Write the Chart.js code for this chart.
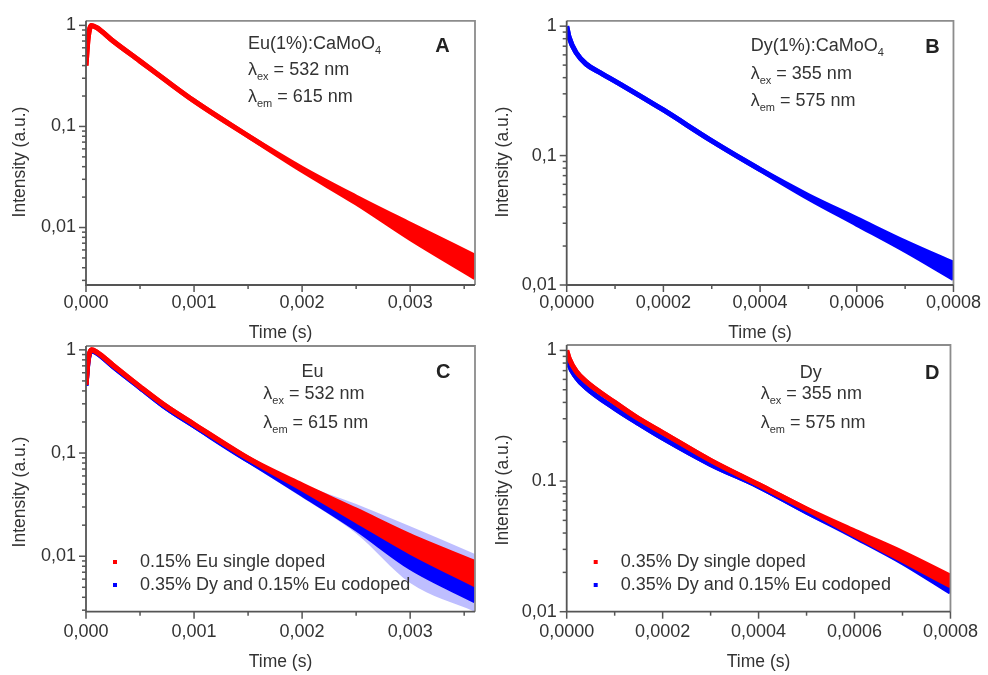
<!DOCTYPE html>
<html>
<head>
<meta charset="utf-8">
<script src="https://cdn.jsdelivr.net/npm/chart.js@4.4.1/dist/chart.umd.min.js"></script>
<style>
  html, body { margin: 0; padding: 0; background: #fff; }
  #wrap { position: relative; width: 988px; height: 675px; }
  canvas { position: absolute; left: 0; top: 0; }
</style>
</head>
<body>
<div id="wrap">
  <canvas id="pA" width="988" height="675"></canvas>
  <canvas id="pB" width="988" height="675"></canvas>
  <canvas id="pC" width="988" height="675"></canvas>
  <canvas id="pD" width="988" height="675"></canvas>
</div>
<script>
//------ data ----------------------------//
// Eu panels (A, C): time in s
const tEu = [0, 0.00002, 0.00005, 0.0001, 0.00025, 0.0005, 0.00075, 0.001, 0.0015, 0.002, 0.0025, 0.003, 0.0036];
// A : Eu(1%):CaMoO4, upper / lower edge of the red band
const euA_hi = [0.40, 0.75, 1.0, 0.95, 0.70, 0.443, 0.28, 0.179, 0.0807, 0.0385, 0.0200, 0.0108, 0.0052];
const euA_lo = [0.40, 0.75, 1.0, 0.95, 0.70, 0.443, 0.28, 0.179, 0.0807, 0.0367, 0.0175, 0.0078, 0.0032];
// C : 0.15% Eu single doped (red)
const euC_single_hi = [0.46, 0.80, 1.0, 0.95, 0.71, 0.44, 0.28, 0.19, 0.089, 0.049, 0.028, 0.0158, 0.0087];
const euC_single_lo = [0.46, 0.80, 1.0, 0.95, 0.71, 0.44, 0.28, 0.19, 0.089, 0.045, 0.0222, 0.0110, 0.0053];
// C : 0.35% Dy and 0.15% Eu codoped (blue), dense core
const euC_codop_hi = [0.45, 0.78, 0.98, 0.93, 0.69, 0.43, 0.27, 0.183, 0.085, 0.046, 0.026, 0.0135, 0.0075];
const euC_codop_lo = [0.45, 0.78, 0.98, 0.93, 0.69, 0.43, 0.27, 0.183, 0.085, 0.040, 0.0185, 0.0078, 0.0037];
// C : scattered blue points at late times
const tEuScat = [0.0015, 0.002, 0.0025, 0.003, 0.0036];
const euC_scat_hi = [0.086, 0.050, 0.032, 0.0195, 0.0105];
const euC_scat_lo = [0.080, 0.037, 0.0166, 0.0055, 0.0029];

// B : Dy(1%):CaMoO4
const tDyB = [0, 0.000005, 0.00002, 0.00004, 0.00007, 0.00012, 0.0002, 0.0003, 0.0004, 0.0005, 0.0006, 0.0007, 0.0008];
const dyB_hi = [1.0, 0.82, 0.62, 0.51, 0.435, 0.34, 0.225, 0.13, 0.078, 0.049, 0.0325, 0.0215, 0.0147];
const dyB_lo = [1.0, 0.82, 0.62, 0.51, 0.435, 0.34, 0.225, 0.13, 0.078, 0.047, 0.0295, 0.0185, 0.0112];

// D : Dy panels
const tDyD = [0, 0.000005, 0.00002, 0.00004, 0.0001, 0.00015, 0.0002, 0.0003, 0.0004, 0.0005, 0.0006, 0.0007, 0.0008];
const dyD_single_hi = [1.0, 0.87, 0.69, 0.58, 0.40, 0.30, 0.235, 0.144, 0.094, 0.061, 0.0414, 0.0284, 0.0187];
const dyD_single_lo = [1.0, 0.87, 0.69, 0.58, 0.40, 0.30, 0.235, 0.144, 0.094, 0.061, 0.0386, 0.0247, 0.0158];
const dyD_codop_hi = [0.95, 0.78, 0.62, 0.52, 0.36, 0.275, 0.213, 0.134, 0.091, 0.058, 0.0385, 0.0252, 0.0155];
const dyD_codop_lo = [0.95, 0.78, 0.62, 0.52, 0.36, 0.275, 0.213, 0.134, 0.091, 0.058, 0.0375, 0.0238, 0.0141];

// tick labels
const yTicks = [0.01, 0.1, 1];
const yLabelsComma = ['0,01', '0,1', '1'];
const yLabelsD = ['0,01', '0.1', '1'];

const FONT = '"Liberation Sans", Arial, sans-serif';
const TXT = '#333';
const RED = '#ff0000';
const BLUE = '#0000ff';

const pts = (t, v) => t.map((x, i) => ({ x: x, y: v[i] }));

//------ drawing helpers -------//
function drawParts(ctx, x, y, parts, size, align) {
  const sub = Math.round(size * 0.6);
  let w = 0;
  parts.forEach(p => {
    ctx.font = (p[1] ? sub : size) + 'px ' + FONT;
    w += ctx.measureText(p[0]).width;
  });
  let cx = align === 'center' ? x - w / 2 : x;
  parts.forEach(p => {
    ctx.font = (p[1] ? sub : size) + 'px ' + FONT;
    ctx.fillText(p[0], cx, p[1] ? y + size * 0.36 : y);
    cx += ctx.measureText(p[0]).width;
  });
}

function makeDeco(o) {
  return {
    id: 'deco',
    afterDraw(chart) {
      const { ctx, chartArea: a } = chart;
      const sx = chart.scales.x, sy = chart.scales.y;
      ctx.save();
      // frame
      ctx.lineWidth = 1.8;
      ctx.strokeStyle = '#8c8c8c';
      ctx.beginPath();
      ctx.moveTo(a.left, a.top); ctx.lineTo(a.right, a.top); ctx.lineTo(a.right, a.bottom);
      ctx.stroke();
      ctx.strokeStyle = '#555';
      ctx.beginPath();
      ctx.moveTo(a.left, a.top); ctx.lineTo(a.left, a.bottom); ctx.lineTo(a.right, a.bottom);
      ctx.stroke();
      // tick marks
      ctx.lineWidth = 1.5;
      const half = o.xStep / 2;
      for (let k = 0; k * half <= o.xMax + 1e-12; k++) {
        const px = sx.getPixelForValue(k * half);
        const len = k % 2 ? 4 : 7;
        ctx.beginPath(); ctx.moveTo(px, a.bottom); ctx.lineTo(px, a.bottom + len); ctx.stroke();
      }
      for (let d = Math.floor(Math.log10(o.yMin)) - 1; d <= 0; d++) {
        for (let m = 1; m <= 9; m++) {
          const v = m * Math.pow(10, d);
          if (v < o.yMin * 0.999 || v > o.yMax) continue;
          const py = sy.getPixelForValue(v);
          const len = m === 1 ? 7 : 4;
          ctx.beginPath(); ctx.moveTo(a.left - len, py); ctx.lineTo(a.left, py); ctx.stroke();
        }
      }
      // axis titles
      ctx.fillStyle = TXT;
      ctx.textBaseline = 'middle';
      ctx.textAlign = 'center';
      ctx.font = '17.5px ' + FONT;
      ctx.fillText('Time (s)', (a.left + a.right) / 2, o.xTitleY);
      ctx.save();
      ctx.translate(o.yTitle[0], o.yTitle[1]);
      ctx.rotate(-Math.PI / 2);
      ctx.fillText('Intensity (a.u.)', 0, 0);
      ctx.restore();
      // annotations
      ctx.textAlign = 'left';
      o.annot.forEach(it => drawParts(ctx, it.x, it.y, it.parts, 18, it.align));
      ctx.textAlign = 'center';
      ctx.font = 'bold 20px ' + FONT;
      ctx.fillStyle = '#222';
      ctx.fillText(o.letter[0], o.letter[1], o.letter[2]);
      // legend
      if (o.legend) {
        ctx.textAlign = 'left';
        ctx.font = '18px ' + FONT;
        o.legend.items.forEach((it, i) => {
          const yy = o.legend.y + i * 23;
          ctx.fillStyle = it[1];
          ctx.fillRect(o.legend.dotX - 2, yy - 2, 4, 4);
          ctx.fillStyle = TXT;
          ctx.fillText(it[0], o.legend.textX, yy);
        });
      }
      ctx.restore();
    }
  };
}

function band(t, lo, hi, color, fillColor, width, order) {
  const base = {
    borderColor: width ? color : 'rgba(0,0,0,0)',
    borderWidth: width,
    pointRadius: 0,
    cubicInterpolationMode: 'monotone',
    clip: 0,
    order: order
  };
  return [
    Object.assign({ data: pts(t, lo), fill: false }, base),
    Object.assign({ data: pts(t, hi), fill: '-1', backgroundColor: fillColor }, base)
  ];
}

function panel(id, o) {
  const [l, t, r, b] = o.area;
  new Chart(document.getElementById(id), {
    type: 'line',
    data: { datasets: o.datasets },
    options: {
      responsive: false,
      animation: false,
      devicePixelRatio: 1,
      layout: { padding: { left: l - 80, top: t, right: 988 - r, bottom: 675 - b - 40 } },
      plugins: { legend: { display: false }, tooltip: { enabled: false } },
      scales: {
        x: {
          type: 'linear', min: 0, max: o.xMax,
          grid: { display: false, drawTicks: false },
          border: { display: false },
          afterFit: s => { s.height = 40; },
          ticks: {
            stepSize: o.xStep, includeBounds: false, autoSkip: false, maxRotation: 0,
            padding: o.xPad, color: TXT, font: { family: FONT, size: 18 },
            callback: v => v.toFixed(o.xDec).replace('.', ',')
          }
        },
        y: {
          type: 'logarithmic', min: o.yMin, max: o.yMax,
          grid: { display: false, drawTicks: false },
          border: { display: false },
          afterFit: s => { s.width = 80; },
          afterBuildTicks: s => { s.ticks = yTicks.map(v => ({ value: v })); },
          ticks: {
            autoSkip: false, padding: 10, color: TXT, font: { family: FONT, size: 18 },
            callback: v => o.yLabels[yTicks.indexOf(v)]
          }
        }
      }
    },
    plugins: [makeDeco(o)]
  });
}

//------ panels -------//
panel('pA', {
  area: [86, 16, 475, 285], xMax: 0.0036, xStep: 0.001, xDec: 3, xPad: 7,
  yMin: 0.0027, yMax: 1.11, yLabels: yLabelsComma,
  datasets: band(tEu, euA_lo, euA_hi, RED, RED, 5, 0),
  xTitleY: 333, yTitle: [20, 162],
  annot: [
    { x: 248, y: 44, parts: [['Eu(1%):CaMoO'], ['4', 1]] },
    { x: 248, y: 70, parts: [['λ'], ['ex', 1], [' = 532 nm']] },
    { x: 248, y: 97, parts: [['λ'], ['em', 1], [' = 615 nm']] }
  ],
  letter: ['A', 442.5, 46]
});

panel('pB', {
  area: [566.7, 16, 956.3, 285], xMax: 0.0008, xStep: 0.0002, xDec: 4, xPad: 7,
  yMin: 0.01, yMax: 1.1, yLabels: yLabelsComma,
  datasets: band(tDyB, dyB_lo, dyB_hi, BLUE, BLUE, 5, 0),
  xTitleY: 333, yTitle: [503, 162],
  annot: [
    { x: 750.7, y: 46, parts: [['Dy(1%):CaMoO'], ['4', 1]] },
    { x: 750.7, y: 74, parts: [['λ'], ['ex', 1], [' = 355 nm']] },
    { x: 750.7, y: 101, parts: [['λ'], ['em', 1], [' = 575 nm']] }
  ],
  letter: ['B', 932.5, 47]
});

panel('pC', {
  area: [86, 346, 475, 611.7], xMax: 0.0036, xStep: 0.001, xDec: 3, xPad: 10,
  yMin: 0.0029, yMax: 1.09, yLabels: yLabelsComma,
  datasets: []
    .concat(band(tEu, euC_single_lo, euC_single_hi, RED, RED, 5, 0))
    .concat(band(tEu, euC_codop_lo, euC_codop_hi, BLUE, BLUE, 5, 1))
    .concat(band(tEuScat, euC_scat_lo, euC_scat_hi, BLUE, 'rgba(40,40,255,0.3)', 0, 2)),
  xTitleY: 662, yTitle: [20, 492],
  annot: [
    { x: 312.5, y: 372.5, parts: [['Eu']], align: 'center' },
    { x: 263.3, y: 394, parts: [['λ'], ['ex', 1], [' = 532 nm']] },
    { x: 263.3, y: 423, parts: [['λ'], ['em', 1], [' = 615 nm']] }
  ],
  letter: ['C', 443.3, 372],
  legend: { dotX: 115, textX: 140, y: 562, items: [['0.15% Eu single doped', RED], ['0.35% Dy and 0.15% Eu codoped', BLUE]] }
});

panel('pD', {
  area: [566.7, 345, 956.3, 611.7], xMax: 0.0008, xStep: 0.0002, xDec: 4, xPad: 10,
  yMin: 0.01, yMax: 1.1, yLabels: yLabelsD,
  datasets: []
    .concat(band(tDyD, dyD_single_lo, dyD_single_hi, RED, RED, 5, 0))
    .concat(band(tDyD, dyD_codop_lo, dyD_codop_hi, BLUE, BLUE, 5, 1)),
  xTitleY: 662, yTitle: [503, 490],
  annot: [
    { x: 810.7, y: 373, parts: [['Dy']], align: 'center' },
    { x: 760.7, y: 394, parts: [['λ'], ['ex', 1], [' = 355 nm']] },
    { x: 760.7, y: 423, parts: [['λ'], ['em', 1], [' = 575 nm']] }
  ],
  letter: ['D', 932.3, 373],
  legend: { dotX: 595.7, textX: 620.7, y: 562, items: [['0.35% Dy single doped', RED], ['0.35% Dy and 0.15% Eu codoped', BLUE]] }
});
</script>
</body>
</html>
